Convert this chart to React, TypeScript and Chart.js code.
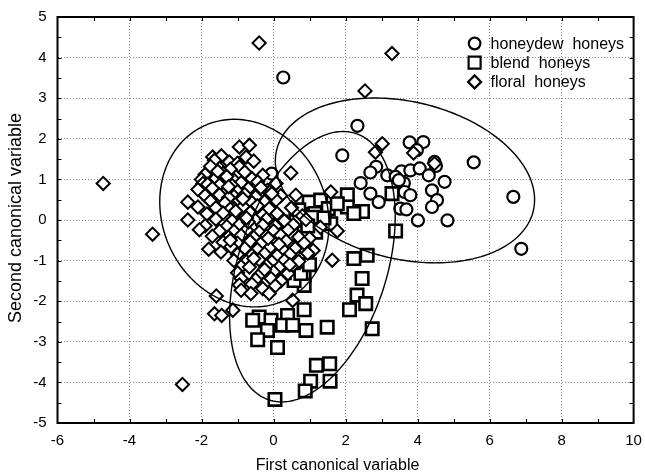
import React, { useEffect, useRef } from "react";
import { Chart, registerables } from "chart.js";
Chart.register(...registerables);

const FONT = "'Liberation Sans', Arial, sans-serif";

const seriesNames = ["honeydew  honeys", "blend  honeys", "floral  honeys"];
const xAxisTitle = "First canonical variable";
const yAxisTitle = "Second canonical variable";

const honeydewX = [0.27, 2.33, 1.91, 5.56, 6.66, 6.88, 3.78, 4.16, 3.98, 4.47, 4.51, 2.85, 2.69, 3.16, 3.55, 3.8, 4.06, 4.31, 4.75, 2.42, 3.62, 3.64, 3.8, 4.4, 4.54, 2.69, 2.92, 4.4, 3.52, 3.69, 4.01, 4.83, 3.39, 3.48, -0.05];
const honeydewY = [3.51, 2.32, 1.59, 1.42, 0.57, -0.71, 1.91, 1.92, 1.72, 1.43, 1.33, 1.31, 1.17, 1.1, 1.2, 1.22, 1.27, 1.1, 0.94, 0.91, 0.91, 0.69, 0.61, 0.73, 0.49, 0.65, 0.44, 0.32, 0.28, 0.26, -0.01, -0.01, 1.06, 0.98, 1.14];

const blendX = [2.46, 2.32, 2.56, 2.11, 2.74, 1.49, 0.85, 0.9, -0.4, -0.58, -0.07, 0.39, 0.25, 0.53, -0.17, -0.44, 0.11, 1.19, 1.56, 1.03, 1.57, 0.88, 0.04, 0.85, 0.85, 0.57, 2.23, 2.6, 3.39, 0.99, 1.31, 1.52, 2.05, 2.05, 2.47, 1.77, 1.15, 1.17, 1.59, 3.29, 2.23, 1.08, 0.62, 0.39, 0.39, 0.9, 0.76, 0.3, 0.0, -0.1, 0.15, 0.55, 1.0, 0.2, 0.95, 0.5, 0.05, 1.4, 0.7];
const blendY = [-1.44, -1.85, -2.06, -2.21, -2.68, -2.64, -2.21, -2.72, -2.39, -2.47, -2.47, -2.35, -2.59, -2.59, -2.72, -2.95, -3.14, -3.58, -3.54, -3.97, -3.97, -4.21, -4.42, -1.36, -1.61, -1.49, -0.95, -0.87, -0.27, 0.44, 0.49, 0.28, 0.62, 0.32, 0.21, 0.4, 0.16, -0.3, -0.09, 0.65, 0.16, 0.07, -0.01, -0.21, -0.58, -0.66, -1.32, -1.3, -0.6, -0.25, -0.9, -1.05, -1.1, -0.05, -0.15, -0.35, -1.15, 0.05, 0.25];

const floralX = [
  -0.95, -0.67, -1.69, -0.76, -1.45, -1.64, -1.23, -1.0, -0.55, -1.5, -0.95, -1.75, -1.2,
  -1.9, -1.4, -0.8, -0.3, -2.0, -1.6, -1.1, -0.6, -1.3, -1.96, -1.83, -0.44, 0.07, -1.5, -0.9, -1.15,
  -2.1, -1.7, -1.3, -0.7, -0.17, -1.0, -0.35, -1.9, -1.5, -1.1, -0.8, -0.5, 0.2, -1.25, 0.62,
  -2.38, -1.75, -1.35, -0.95, -0.6, 0.07, -0.25, -2.1, -1.6, -1.2, -0.85, -0.12, -0.4, 0.5,
  -1.85, -1.4, -1.0, -0.65, -0.3, 0.1, 0.8, -2.38, -1.6, -1.15, -0.85, -0.5, -0.2, 0.3, 0.9,
  -1.9, -1.3, -0.95, -0.6, -0.3, 0.05, 0.55, 1.3, -2.06, -1.5, -1.1, -0.75, -0.4, 0.0, 0.4, 1.77,
  -1.7, -1.25, -0.9, -0.55, -0.2, 0.2, 0.7, 1.0, -1.4, -1.0, -0.65, -0.35, 0.0, 0.35, 0.85,
  -1.8, -1.46, -1.18, -0.8, -0.45, -0.1, 0.25, 0.6, 1.1, -1.0, -0.6, -0.25, 0.1, 0.45, 0.95,
  -1.1, -0.75, -0.4, -0.05, 0.3, 0.7, 1.63, -0.9, -0.67, -0.2, 0.15, 0.5, -1.0, -0.4, 0.0, 0.4,
  -0.9, -0.5, -0.07, 0.2, -0.95, -0.6, -0.3, 0.05, -0.9, -0.63, -0.12, -1.59, 0.53,
  -1.64, -1.44, -1.13,
  -1.55, -1.25, -0.85, -1.05, -0.7, -0.45, -0.15, 0.15, -0.55, -0.25, 0.45, -1.2, -0.75, -0.05,
  -0.4, 3.29, 2.54, -4.73, -3.36, -2.53, 3.02, 2.83, 3.89, 4.47, 0.48, 1.59,
];
const floralY = [
  1.8, 1.84, 1.55, 1.55, 1.58, 1.47, 1.43, 1.4, 1.45, 1.27, 1.31, 1.32, 1.25,
  1.12, 1.15, 1.18, 1.1, 1.0, 1.03, 0.98, 1.02, 1.07, 0.9, 0.88, 0.94, 0.9, 0.86, 0.92, 0.85,
  0.75, 0.78, 0.72, 0.77, 0.73, 0.7, 0.8, 0.6, 0.62, 0.58, 0.63, 0.57, 0.6, 0.55, 0.61,
  0.44, 0.47, 0.42, 0.48, 0.43, 0.49, 0.45, 0.32, 0.3, 0.27, 0.33, 0.28, 0.2, 0.3,
  0.15, 0.17, 0.13, 0.18, 0.12, 0.16, 0.1, 0.0, 0.02, -0.02, 0.03, -0.01, 0.02, -0.02, 0.01,
  -0.14, -0.16, -0.12, -0.17, -0.13, -0.15, -0.12, -0.18, -0.24, -0.27, -0.28, -0.25, -0.3, -0.27, -0.25, -0.27,
  -0.4, -0.42, -0.38, -0.43, -0.4, -0.38, -0.42, -0.45, -0.55, -0.57, -0.53, -0.58, -0.55, -0.52, -0.57,
  -0.72, -0.79, -0.66, -0.7, -0.73, -0.68, -0.72, -0.7, -0.75, -0.85, -0.87, -0.83, -0.88, -0.85, -0.82,
  -1.0, -1.02, -0.98, -1.03, -1.0, -1.02, -0.99, -1.15, -1.16, -1.13, -1.17, -1.15, -1.3, -1.36, -1.28, -1.32,
  -1.44, -1.47, -1.44, -1.5, -1.6, -1.58, -1.69, -1.62, -1.73, -1.81, -1.81, -1.87, -1.98,
  -2.31, -2.35, -2.22,
  1.2, 0.82, 0.52, 0.22, -0.05, 0.35, -0.45, -0.6, -0.95, -1.22, -1.1, -0.5, 0.05, 0.65,
  4.36, 4.1, 3.18, 0.9, -0.35, -4.05, 1.88, 1.67, 1.65, 1.39, 1.16, 0.69,
];

// confidence ellipses: centre, half-extent in x and y, phase (cos of angle between x and y extremes)
const ellipseCX = [3.65, 1.08, -0.81];
const ellipseCY = [0.975, -1.15, 0.17];
const ellipseAX = [3.6, 2.3, 2.35];
const ellipseBY = [2.03, 3.33, 2.31];
const ellipseC = [-0.234, 0.37, -0.12];

const X_MIN = -6, X_MAX = 10, X_STEP = 2;
const Y_MIN = -5, Y_MAX = 5, Y_STEP = 1;

const pts = (xs: number[], ys: number[]) => xs.map((x, i) => ({ x, y: ys[i] }));

function drawMarker(ctx: CanvasRenderingContext2D, kind: number, x: number, y: number) {
  ctx.beginPath();
  if (kind === 0) {
    ctx.arc(x, y, 5.8, 0, Math.PI * 2);
  } else if (kind === 1) {
    ctx.rect(x - 6, y - 6, 12, 12);
  } else {
    ctx.moveTo(x, y - 6.5);
    ctx.lineTo(x + 6.5, y);
    ctx.lineTo(x, y + 6.5);
    ctx.lineTo(x - 6.5, y);
    ctx.closePath();
  }
  ctx.fillStyle = "#fff";
  ctx.fill();
  ctx.stroke();
}

const decorPlugin = {
  id: "decor",
  afterDatasetsDraw(chart: any) {
    const { ctx, chartArea, scales } = chart;
    const xs = scales.x, ys = scales.y;
    ctx.save();
    ctx.beginPath();
    ctx.rect(chartArea.left, chartArea.top, chartArea.right - chartArea.left, chartArea.bottom - chartArea.top);
    ctx.clip();
    ctx.strokeStyle = "#000";
    ctx.lineWidth = 1.4;
    for (let e = 0; e < ellipseCX.length; e++) {
      const phi = Math.acos(ellipseC[e]);
      ctx.beginPath();
      for (let k = 0; k <= 240; k++) {
        const t = (k / 240) * Math.PI * 2;
        const dx = ellipseCX[e] + ellipseAX[e] * Math.cos(t);
        const dy = ellipseCY[e] + ellipseBY[e] * Math.cos(t - phi);
        const px = xs.getPixelForValue(dx), py = ys.getPixelForValue(dy);
        if (k === 0) ctx.moveTo(px, py); else ctx.lineTo(px, py);
      }
      ctx.stroke();
    }
    ctx.restore();
  },
  afterDraw(chart: any) {
    const { ctx, chartArea, scales } = chart;
    const xs = scales.x, ys = scales.y;
    const { left, right, top, bottom } = chartArea;
    ctx.save();
    ctx.strokeStyle = "#000";
    ctx.lineWidth = 1;
    ctx.beginPath();
    for (let v = X_MIN + 1; v < X_MAX; v += 1) {
      const px = Math.round(xs.getPixelForValue(v)) + 0.5;
      ctx.moveTo(px, bottom); ctx.lineTo(px, bottom - 4);
      ctx.moveTo(px, top); ctx.lineTo(px, top + 4);
    }
    for (let v = Y_MIN + 0.5; v < Y_MAX; v += 0.5) {
      const py = Math.round(ys.getPixelForValue(v)) + 0.5;
      ctx.moveTo(left, py); ctx.lineTo(left + 4, py);
      ctx.moveTo(right, py); ctx.lineTo(right - 4, py);
    }
    ctx.stroke();
    ctx.lineWidth = 2;
    ctx.strokeRect(left, top, right - left, bottom - top);

    // legend
    const lx = right - 159, ly = top + 26.5, gap = 19.2;
    ctx.lineWidth = 2.2;
    ctx.font = `16px ${FONT}`;
    ctx.textBaseline = "middle";
    ctx.textAlign = "left";
    for (let i = 0; i < seriesNames.length; i++) {
      ctx.strokeStyle = "#000";
      drawMarker(ctx, i, lx, ly + i * gap);
      ctx.fillStyle = "#000";
      ctx.fillText(seriesNames[i], lx + 16, ly + i * gap + 1);
    }

    // axis titles
    ctx.fillStyle = "#000";
    ctx.textAlign = "center";
    ctx.textBaseline = "middle";
    ctx.font = `16px ${FONT}`;
    ctx.fillText(xAxisTitle, (left + right) / 2 - 8, 466);
    ctx.font = `18px ${FONT}`;
    ctx.translate(16, (top + bottom) / 2 - 2);
    ctx.rotate(-Math.PI / 2);
    ctx.fillText(yAxisTitle, 0, 0);
    ctx.restore();
  },
};

export default function App() {
  const ref = useRef<HTMLCanvasElement | null>(null);
  useEffect(() => {
    if (!ref.current) return;
    const common = { borderColor: "#000", backgroundColor: "#fff" };
    const chart = new Chart(ref.current, {
      type: "scatter",
      data: {
        datasets: [
          { label: seriesNames[2], data: pts(floralX, floralY), pointStyle: "rectRot", pointRadius: 6.6, borderWidth: 2, order: 0, ...common },
          { label: seriesNames[1], data: pts(blendX, blendY), pointStyle: "rect", pointRadius: 8.8, borderWidth: 2.6, order: 1, ...common },
          { label: seriesNames[0], data: pts(honeydewX, honeydewY), pointStyle: "circle", pointRadius: 6, borderWidth: 2.2, order: 2, ...common },
        ],
      },
      options: {
        responsive: false,
        animation: false,
        events: [],
        layout: { padding: { top: 17, right: 9, left: 0, bottom: 0 } },
        plugins: { legend: { display: false }, tooltip: { enabled: false } },
        scales: {
          x: {
            type: "linear",
            min: X_MIN,
            max: X_MAX,
            ticks: { stepSize: X_STEP, color: "#000", font: { size: 15, family: FONT }, padding: 9 },
            grid: { color: "#8a8a8a", drawTicks: false, lineWidth: 1 },
            border: { display: false, dash: [1, 2] },
            afterFit: (s: any) => { s.height = 52; s.paddingLeft = 0; s.paddingRight = 0; },
          },
          y: {
            type: "linear",
            min: Y_MIN,
            max: Y_MAX,
            ticks: { stepSize: Y_STEP, color: "#000", font: { size: 15, family: FONT }, padding: 11 },
            grid: { color: "#8a8a8a", drawTicks: false, lineWidth: 1 },
            border: { display: false, dash: [1, 2] },
            afterFit: (s: any) => { s.width = 57.5; s.paddingTop = 0; s.paddingBottom = 0; },
          },
        },
      },
      plugins: [decorPlugin],
    });
    return () => chart.destroy();
  }, []);
  return (
    <div style={{ position: "absolute", left: 0, top: 0, width: 645, height: 475, background: "#fff" }}>
      <canvas ref={ref} width={645} height={475} style={{ width: 645, height: 475 }} />
    </div>
  );
}
